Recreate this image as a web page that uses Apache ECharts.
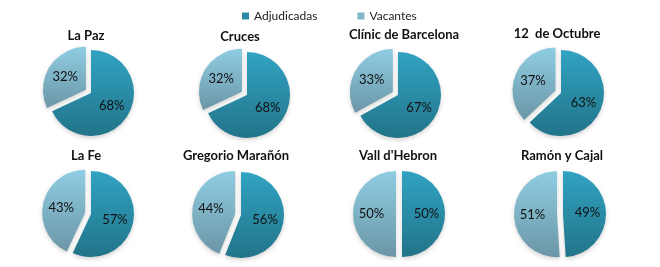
<!DOCTYPE html>
<html>
<head>
<meta charset="utf-8">
<script src="https://cdn.jsdelivr.net/npm/echarts@6/dist/echarts.min.js"></script>
<style>html,body{margin:0;padding:0;background:#fff}#c{width:660px;height:267px}</style>
</head>
<body>
<div id="c"></div>
<script>
var hospitals = ['La Paz', 'Cruces', 'Clínic de Barcelona', '12  de Octubre', 'La Fe', 'Gregorio Marañón', "Vall d'Hebron", 'Ramón y Cajal'];
var adjudicadas = [68, 68, 67, 63, 57, 56, 50, 49];
var vacantes = [32, 32, 33, 37, 43, 44, 50, 51];
var seriesNames = ['Adjudicadas', 'Vacantes'];

var centers = [[91, 93], [247, 95], [398, 95], [561, 93], [91, 214], [241, 215], [402, 214], [563, 214]];
var titlePos = [[86, 36], [240, 37], [404, 35], [557, 34], [86, 156], [236, 156], [398, 156], [562, 156]];

function grad(c1, c2) {
  return new echarts.graphic.LinearGradient(0, 0, 0, 1, [{offset: 0, color: c1}, {offset: 1, color: c2}]);
}
var adjColor = grad('#31a3c2', '#227489');
var vacColor = grad('#8fcde2', '#6b96a7');

var series = hospitals.map(function (h, i) {
  return {
    type: 'pie',
    name: h,
    center: centers[i],
    radius: 43,
    startAngle: 90,
    clockwise: true,
    selectedMode: 'multiple',
    selectedOffset: 6,
    animation: false,
    label: {
      position: 'inside',
      color: '#111',
      fontFamily: 'Lato',
      fontSize: 13,
      formatter: function (p) { return p.value + '%'; }
    },
    labelLine: {show: false},
    emphasis: {disabled: true},
    itemStyle: {borderWidth: 0, shadowBlur: 4, shadowOffsetY: 2, shadowColor: 'rgba(0,0,0,0.18)'},
    data: [
      {name: seriesNames[0], value: adjudicadas[i], itemStyle: {color: adjColor}},
      {name: seriesNames[1], value: vacantes[i], selected: true, itemStyle: {color: vacColor}}
    ]
  };
});

var graphics = hospitals.map(function (h, i) {
  return {
    type: 'text',
    x: titlePos[i][0],
    y: titlePos[i][1],
    style: {
      text: h,
      textAlign: 'center',
      textVerticalAlign: 'middle',
      fontFamily: 'Lato',
      fontWeight: 'bold',
      fontSize: 13,
      fill: '#111'
    }
  };
});

var chart = echarts.init(document.getElementById('c'));
chart.setOption({
  backgroundColor: '#fff',
  legend: {
    left: 237,
    top: 5,
    icon: 'rect',
    itemWidth: 7,
    itemHeight: 7,
    itemGap: 40,
    textStyle: {fontFamily: 'Lato', fontSize: 12, color: '#222'},
    selectedMode: false,
    data: [
      {name: 'Adjudicadas', itemStyle: {color: '#2a8ba6'}},
      {name: 'Vacantes', itemStyle: {color: '#7fb8cc'}}
    ]
  },
  graphic: graphics,
  series: series
});
</script>
</body>
</html>
